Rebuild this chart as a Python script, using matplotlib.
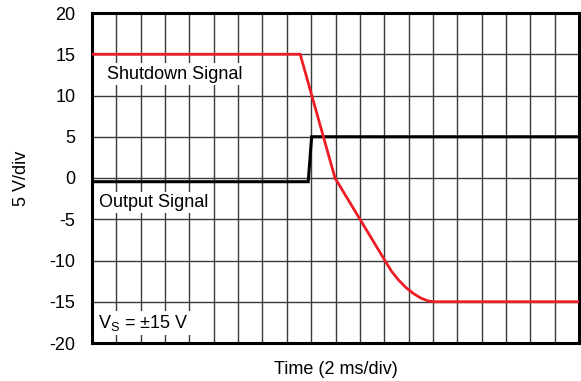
import matplotlib
matplotlib.use("Agg")
import matplotlib.pyplot as plt

plt.rcParams['font.family'] = ['Liberation Sans', 'DejaVu Sans']

# Time in divisions (2 ms/div), voltage in V
shutdown_t = [0, 8.55, 9.98, 12.03, 12.3, 12.6, 12.9, 13.2, 13.5, 13.8, 14.05, 20]
shutdown_v = [15, 15, 0.0, -10, -11.3, -12.4, -13.3, -14.0, -14.55, -14.9, -15, -15]

output_t = [0, 8.88, 9.02, 20]
output_v = [-0.45, -0.45, 5, 5]

y_ticks = [20, 15, 10, 5, 0, -5, -10, -15, -20]
y_tick_labels = ['20', '15', '10', '5', '0', '-5', '-10', '-15', '-20']

fig = plt.figure(figsize=(5.81, 3.81), dpi=100)
ax = fig.add_axes([92/581, 38/381, 487/581, 330/381])

FS = 13
ax.set_xlim(0, 20)
ax.set_ylim(-20, 20)
ax.set_xticks(range(0, 21))
ax.set_yticks(y_ticks)
ax.set_yticklabels(y_tick_labels, fontsize=FS)
ax.tick_params(axis='x', length=0, labelbottom=False)
ax.tick_params(axis='y', length=0, pad=12)
ax.grid(True, color='#3a3a3a', linewidth=1.0, zorder=0)
ax.set_axisbelow(True)
for s in ax.spines.values():
    s.set_linewidth(2.2)
    s.set_color('black')

ax.plot(output_t, output_v, color='black', linewidth=2.2, zorder=3, solid_joinstyle='miter')
ax.plot(shutdown_t, shutdown_v, color='#ee1c25', linewidth=2.0, zorder=4)

bbox = dict(facecolor='white', edgecolor='none', pad=1.5)
ax.text(0.62, 12.6, 'Shutdown Signal', fontsize=FS, ha='left', va='center', bbox=bbox, zorder=5)
ax.text(0.3, -3.0, 'Output Signal', fontsize=FS, ha='left', va='center', bbox=bbox, zorder=5)
ax.text(0.25, -17.6, r'V$_\mathregular{S}$ = ±15 V', fontsize=FS, ha='left', va='center', bbox=bbox, zorder=5)

ax.set_xlabel('Time (2 ms/div)', fontsize=FS, labelpad=13)
ax.set_ylabel('5 V/div', fontsize=FS, labelpad=14)

fig.savefig('out.png', dpi=100)
